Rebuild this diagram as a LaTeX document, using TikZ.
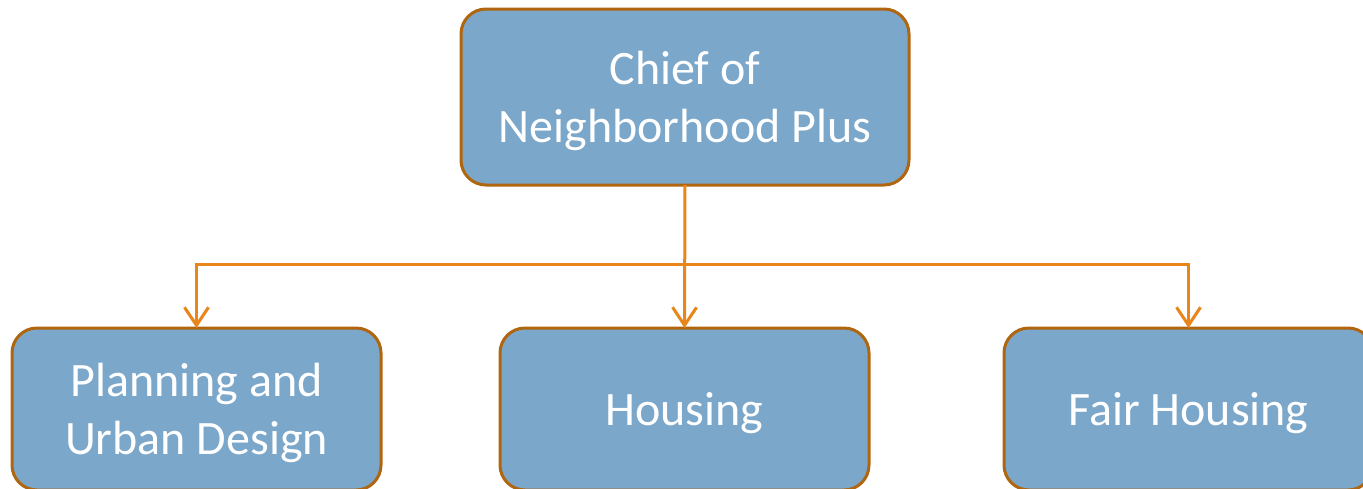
\documentclass[tikz,border=0pt]{standalone}
\usepackage{fontspec}
\setmainfont{Carlito}
\usetikzlibrary{arrows.meta}
\definecolor{boxfill}{HTML}{7BA7CB}
\definecolor{boxline}{HTML}{B0650F}
\definecolor{conn}{HTML}{E8861A}
\tikzset{
  unit/.style={draw=boxline, line width=3pt, fill=boxfill, rounded corners=25pt,
    inner sep=0pt, outer sep=0pt},
  caption/.style={text=white, align=center, inner sep=0pt,
    font=\fontsize{48}{58}\selectfont},
  link/.style={draw=conn, line width=3pt, -{Straight Barb[length=18pt,width=24pt,line width=3pt]}}
}
\begin{document}
\begin{tikzpicture}[x=1pt,y=-1pt]
\useasboundingbox (0,0) rectangle (1363,488);
\clip (0,0) rectangle (1363,488);
\node[unit, minimum width=448pt, minimum height=176pt] (chief) at (685,97) {};
\node[unit, minimum width=369pt, minimum height=162pt] (plan) at (196.5,409) {};
\node[unit, minimum width=369pt, minimum height=162pt] (hous) at (684.5,409) {};
\node[unit, minimum width=369pt, minimum height=162pt] (fair) at (1188.5,409) {};
\node[caption] (chiefT) at ([yshift=-4pt]chief.center) {Chief of\\Neighborhood Plus};
\node[caption] (planT) at ([yshift=-4pt]plan.center) {Planning and\\Urban Design};
\node[caption] (housT) at ([yshift=-4pt]hous.center) {Housing};
\node[caption] (fairT) at ([yshift=-4pt]fair.center) {Fair Housing};
\coordinate (bus) at (685,264);
\draw[link] (chief.south) -- (hous.north);
\draw[link] (bus) -| (plan.north);
\draw[link] (bus) -| (fair.north);
\end{tikzpicture}
\end{document}
